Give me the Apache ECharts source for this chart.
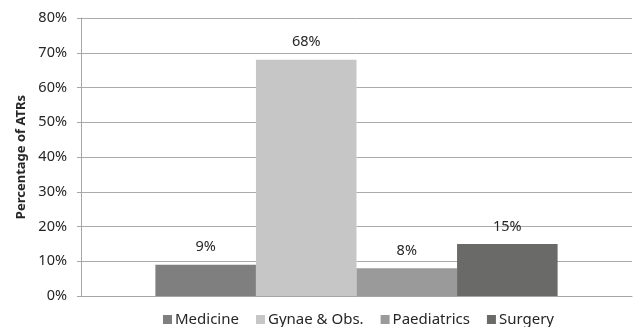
<!DOCTYPE html>
<html>
<head>
<meta charset="utf-8">
<script src="https://cdn.jsdelivr.net/npm/echarts@6/dist/echarts.min.js"></script>
<style>
  html, body { margin: 0; padding: 0; background: #fff; }
  #chart { width: 634px; height: 327px; }
</style>
</head>
<body>
<div id="chart"></div>
<script>
// Share of ATRs by specialty (percent)
const specialties = ['Medicine', 'Gynae & Obs.', 'Paediatrics', 'Surgery'];
const atrShare = [9, 68, 8, 15];
const barColors = ['#7f7f7f', '#c5c6c5', '#999a99', '#6a6a69'];
const yTicks = { min: 0, max: 80, step: 10 };

const FONT = '"Noto Sans", "Open Sans", sans-serif';

const series = specialties.map((name, i) => ({
  name: name,
  type: 'bar',
  data: [atrShare[i]],
  barGap: '0%',
  barCategoryGap: '27%',
  itemStyle: { color: barColors[i] },
  label: {
    show: true,
    position: 'top',
    distance: 10,
    formatter: '{c}%',
    color: '#262626',
    fontFamily: FONT,
    fontSize: 14.5
  }
}));

const chart = echarts.init(document.getElementById('chart'), null, { renderer: 'canvas' });
chart.setOption({
  animation: false,
  backgroundColor: '#ffffff',
  grid: { left: 81, right: 2, top: 18, bottom: 31, containLabel: false },
  legend: {
    data: specialties,
    top: 307,
    left: 158,
    icon: 'rect',
    itemWidth: 9,
    itemHeight: 9,
    itemGap: 17,
    textStyle: { fontFamily: FONT, fontSize: 15, color: '#262626', padding: [0, 0, 0, -2] }
  },
  xAxis: {
    type: 'category',
    data: [''],
    axisLine: { show: true, lineStyle: { color: '#a6a6a6', width: 1 } },
    axisTick: { show: false },
    axisLabel: { show: false },
    splitLine: { show: false }
  },
  yAxis: {
    type: 'value',
    min: yTicks.min,
    max: yTicks.max,
    interval: yTicks.step,
    name: 'Percentage of ATRs',
    nameLocation: 'middle',
    nameGap: 51,
    nameTextStyle: { fontFamily: FONT, fontSize: 13, fontWeight: 'bold', color: '#262626' },
    axisLine: { show: true, lineStyle: { color: '#a6a6a6', width: 1 } },
    axisTick: { show: true, length: 4, lineStyle: { color: '#a6a6a6' } },
    axisLabel: {
      formatter: '{value}%',
      margin: 14,
      fontFamily: FONT,
      fontSize: 14.5,
      color: '#262626'
    },
    splitLine: { show: true, lineStyle: { color: '#ababab', width: 1 } }
  },
  series: series
});
</script>
</body>
</html>
